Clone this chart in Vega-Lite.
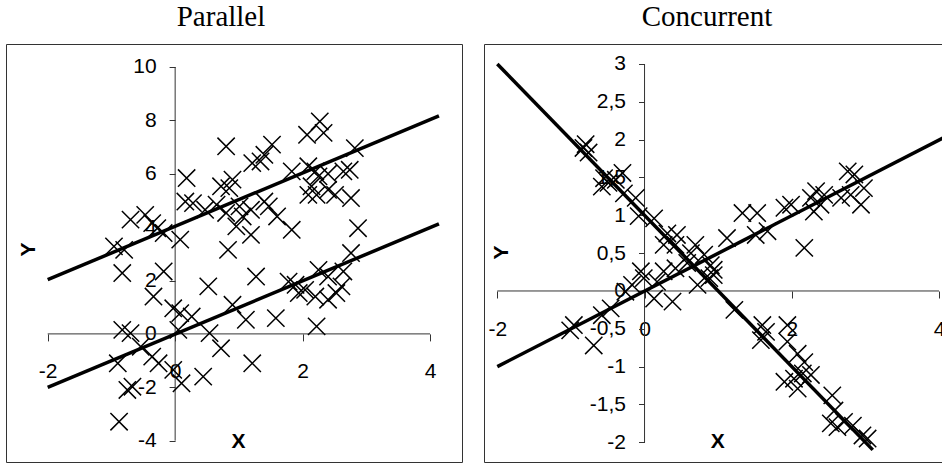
{
  "$schema": "https://vega.github.io/schema/vega-lite/v6.json",
  "padding": {"left": 5, "top": 2, "right": 0, "bottom": 0},
  "autosize": {"type": "pad"},
  "background": "white",
  "spacing": 20,
  "config": {
    "view": {"stroke": "#333333", "strokeWidth": 1},
    "axis": {
      "labelFont": "Liberation Sans", "labelFontSize": 21, "labelColor": "black",
      "tickColor": "#333333", "tickWidth": 1, "domain": false, "grid": false,
      "titleFont": "Liberation Sans", "titleFontSize": 21, "titleFontWeight": "bold", "titleColor": "black",
      "labelOverlap": false, "labelBound": false, "labelFlush": false
    },
    "title": {"font": "Liberation Serif", "fontSize": 29, "fontWeight": "normal", "color": "black", "offset": 12}
  },
  "datasets": {
    "par_axes": [{"x": -2, "x2": 4, "y": 0, "y2": 0}, {"x": 0, "x2": 0, "y": -4, "y2": 10}],
    "con_axes": [{"x": -2, "x2": 4, "y": 0, "y2": 0}, {"x": 0, "x2": 0, "y": -2, "y2": 3}],
    "par_lines": [
      {"line": "a", "x": -2, "y": 2.03}, {"line": "a", "x": 4.14, "y": 8.17},
      {"line": "b", "x": -2, "y": -2.0}, {"line": "b", "x": 4.14, "y": 4.12}
    ],
    "con_lines": [
      {"line": "a", "x": -2, "y": 3}, {"line": "a", "x": 3.1, "y": -2.1},
      {"line": "b", "x": -2, "y": -1}, {"line": "b", "x": 4.07, "y": 2.03}
    ],
    "par_pts": [
      {"x": 2.27, "y": 7.96}, {"x": 2.07, "y": 7.46}, {"x": 2.33, "y": 7.53}, {"x": 0.8, "y": 7.03},
      {"x": 1.52, "y": 7.09}, {"x": 1.4, "y": 6.71}, {"x": 2.82, "y": 6.96}, {"x": 1.21, "y": 6.4},
      {"x": 1.34, "y": 6.46}, {"x": 1.83, "y": 6.09}, {"x": 2.09, "y": 6.28}, {"x": 2.2, "y": 6.09},
      {"x": 2.25, "y": 5.9}, {"x": 2.4, "y": 6.0}, {"x": 2.64, "y": 6.09}, {"x": 2.74, "y": 6.15},
      {"x": 0.18, "y": 5.84}, {"x": 0.72, "y": 5.53}, {"x": 0.9, "y": 5.78}, {"x": 0.85, "y": 5.46},
      {"x": 2.14, "y": 5.53}, {"x": 2.22, "y": 5.21}, {"x": 2.4, "y": 5.4}, {"x": 2.51, "y": 5.21},
      {"x": 2.76, "y": 5.09}, {"x": 2.09, "y": 5.21}, {"x": 0.16, "y": 4.96}, {"x": 0.28, "y": 4.9},
      {"x": 0.47, "y": 4.65}, {"x": 0.65, "y": 4.84}, {"x": 0.8, "y": 4.53}, {"x": 1.01, "y": 4.78},
      {"x": 1.19, "y": 4.65}, {"x": 1.4, "y": 4.96}, {"x": 1.47, "y": 4.78}, {"x": 1.6, "y": 4.4},
      {"x": 1.83, "y": 3.9}, {"x": 0.96, "y": 4.03}, {"x": 1.19, "y": 3.71}, {"x": 0.83, "y": 3.15},
      {"x": 0.08, "y": 3.53}, {"x": -0.18, "y": 3.78}, {"x": -0.28, "y": 3.96}, {"x": -0.47, "y": 4.46},
      {"x": -0.7, "y": 4.28}, {"x": -0.36, "y": 4.15}, {"x": -0.96, "y": 3.28}, {"x": -0.8, "y": 3.15},
      {"x": -0.83, "y": 2.28}, {"x": -0.18, "y": 2.34}, {"x": 2.87, "y": 3.96}, {"x": 1.06, "y": 4.4},
      {"x": 2.76, "y": 3.03}, {"x": 2.64, "y": 2.34}, {"x": 2.25, "y": 2.4}, {"x": 2.4, "y": 2.15},
      {"x": 2.61, "y": 1.78}, {"x": 2.53, "y": 1.53}, {"x": 2.4, "y": 1.28}, {"x": 2.2, "y": 1.4},
      {"x": 2.04, "y": 1.65}, {"x": 1.89, "y": 1.84}, {"x": 1.78, "y": 1.96}, {"x": 1.94, "y": 1.53},
      {"x": 1.27, "y": 2.15}, {"x": 0.52, "y": 1.78}, {"x": -0.34, "y": 1.4}, {"x": 0.9, "y": 1.09},
      {"x": 1.11, "y": 0.53}, {"x": 1.58, "y": 0.59}, {"x": 2.22, "y": 0.28}, {"x": -0.03, "y": 0.96},
      {"x": 0.08, "y": 0.78}, {"x": 0.26, "y": 0.65}, {"x": 0.05, "y": 0.15}, {"x": 0.54, "y": 0.03},
      {"x": 0.72, "y": -0.54}, {"x": 1.21, "y": -1.1}, {"x": 0.44, "y": -1.6}, {"x": 0.1, "y": -1.85},
      {"x": -0.03, "y": -1.35}, {"x": -0.83, "y": 0.15}, {"x": -0.7, "y": 0.03}, {"x": -0.54, "y": -0.48},
      {"x": -0.36, "y": -0.85}, {"x": -0.26, "y": -1.1}, {"x": -0.9, "y": -1.1}, {"x": -0.75, "y": -2.1},
      {"x": -0.67, "y": -1.98}, {"x": -0.88, "y": -3.29}
    ],
    "con_pts": [
      {"x": -0.83, "y": 1.89}, {"x": -0.76, "y": 1.83}, {"x": -0.8, "y": 1.94}, {"x": -0.55, "y": 1.49},
      {"x": -0.39, "y": 1.47}, {"x": -0.49, "y": 1.43}, {"x": -0.3, "y": 1.56}, {"x": -0.58, "y": 1.38},
      {"x": -0.28, "y": 1.29}, {"x": -0.12, "y": 1.23}, {"x": -0.08, "y": 0.99}, {"x": 0.13, "y": 0.96},
      {"x": 0.31, "y": 0.76}, {"x": 0.44, "y": 0.74}, {"x": 0.26, "y": 0.61}, {"x": 0.42, "y": 0.61},
      {"x": 0.69, "y": 0.61}, {"x": 0.81, "y": 0.48}, {"x": 0.9, "y": 0.34}, {"x": 0.94, "y": 0.21},
      {"x": 1.22, "y": -0.25}, {"x": 1.6, "y": -0.45}, {"x": 1.65, "y": -0.54}, {"x": 1.58, "y": -0.65},
      {"x": 1.94, "y": -0.45}, {"x": 1.94, "y": -0.67}, {"x": 2.08, "y": -0.83}, {"x": 2.17, "y": -0.94},
      {"x": 2.26, "y": -1.11}, {"x": 1.9, "y": -1.2}, {"x": 2.03, "y": -1.16}, {"x": 2.15, "y": -1.09},
      {"x": 2.08, "y": -1.29}, {"x": 2.55, "y": -1.38}, {"x": 2.58, "y": -1.58}, {"x": 2.53, "y": -1.75},
      {"x": 2.62, "y": -1.8}, {"x": 2.71, "y": -1.73}, {"x": 2.83, "y": -1.78}, {"x": 2.96, "y": -1.91},
      {"x": 3.03, "y": -1.95},
      {"x": -1.01, "y": -0.52}, {"x": -0.96, "y": -0.45}, {"x": -0.69, "y": -0.72}, {"x": -0.58, "y": -0.32},
      {"x": -0.46, "y": -0.23}, {"x": -0.26, "y": -0.01}, {"x": -0.17, "y": 0.08}, {"x": -0.01, "y": 0.17},
      {"x": -0.05, "y": 0.26}, {"x": 0.13, "y": -0.1}, {"x": 0.38, "y": -0.14}, {"x": 0.17, "y": 0.12},
      {"x": 0.26, "y": 0.26}, {"x": 0.42, "y": 0.3}, {"x": 0.72, "y": 0.08}, {"x": 0.88, "y": 0.17},
      {"x": 0.94, "y": 0.28}, {"x": 1.12, "y": 0.7}, {"x": 1.33, "y": 1.03}, {"x": 1.53, "y": 1.03},
      {"x": 1.51, "y": 0.74}, {"x": 1.67, "y": 0.79}, {"x": 1.9, "y": 1.1}, {"x": 1.99, "y": 1.14},
      {"x": 2.17, "y": 0.57}, {"x": 2.26, "y": 1.23}, {"x": 2.33, "y": 1.32}, {"x": 2.39, "y": 1.14},
      {"x": 2.44, "y": 1.27}, {"x": 2.3, "y": 1.05}, {"x": 2.67, "y": 1.23}, {"x": 2.76, "y": 1.58},
      {"x": 2.85, "y": 1.54}, {"x": 2.94, "y": 1.14}, {"x": 2.98, "y": 1.36}, {"x": 2.8, "y": 1.27},
      {"x": 0.58, "y": 0.37}, {"x": 0.63, "y": 0.5}
    ]
  },
  "hconcat": [
    {
      "width": 456,
      "height": 418,
      "title": {"text": "Parallel", "dx": -13},
      "encoding": {
        "x": {
          "field": "x", "type": "quantitative",
          "scale": {"domain": [-2.6545, 4.5018], "nice": false, "zero": false},
          "axis": {
            "orient": "bottom", "offset": -128.1, "values": [-2, 0, 2, 4],
            "tickSize": 7, "labelPadding": 20, "labelExpr": "toString(datum.value)",
            "title": "X", "titleX": 232, "titleY": 113.4, "titleBaseline": "alphabetic", "titleAlign": "center"
          }
        },
        "y": {
          "field": "y", "type": "quantitative",
          "scale": {"domain": [-4.7996, 10.8617], "nice": false, "zero": false},
          "axis": {
            "orient": "left", "offset": -169.1, "values": [-4, -2, 0, 2, 4, 6, 8, 10],
            "tickSize": 6, "labelPadding": 13, "labelExpr": "toString(datum.value)",
            "title": "Y", "titleX": -140.6, "titleY": 205, "titleAngle": 270, "titleBaseline": "alphabetic", "titleAlign": "center"
          }
        }
      },
      "layer": [
        {
          "data": {"name": "par_axes"},
          "mark": {"type": "rule", "color": "#333333", "strokeWidth": 1},
          "encoding": {"x2": {"field": "x2"}, "y2": {"field": "y2"}}
        },
        {
          "data": {"name": "par_lines"},
          "mark": {"type": "line", "color": "black", "strokeWidth": 3.5},
          "encoding": {"detail": {"field": "line", "type": "nominal"}}
        },
        {
          "data": {"name": "par_pts"},
          "mark": {"type": "point", "shape": "M-1,-1L1,1M-1,1L1,-1", "size": 300, "filled": false, "color": "black", "strokeWidth": 1.5, "opacity": 1}
        }
      ]
    },
    {
      "width": 460,
      "height": 418,
      "title": {"text": "Concurrent", "dx": -7},
      "encoding": {
        "x": {
          "field": "x", "type": "quantitative",
          "scale": {"domain": [-2.1807, 4.0676], "nice": false, "zero": false},
          "axis": {
            "orient": "bottom", "offset": -171.0, "values": [-2, 0, 2, 4],
            "tickSize": 7, "labelPadding": 20, "labelExpr": "toString(datum.value)",
            "title": "X", "titleX": 233.3, "titleY": 156.3, "titleBaseline": "alphabetic", "titleAlign": "center"
          }
        },
        "y": {
          "field": "y", "type": "quantitative",
          "scale": {"domain": [-2.2604, 3.2643], "nice": false, "zero": false},
          "axis": {
            "orient": "left", "offset": -160.5, "values": [-2, -1.5, -1, -0.5, 0, 0.5, 1, 1.5, 2, 2.5, 3],
            "tickSize": 6, "labelPadding": 13, "labelExpr": "replace(toString(datum.value), '.', ',')",
            "title": "Y", "titleX": -136.7, "titleY": 208, "titleAngle": 270, "titleBaseline": "alphabetic", "titleAlign": "center"
          }
        }
      },
      "layer": [
        {
          "data": {"name": "con_axes"},
          "mark": {"type": "rule", "color": "#333333", "strokeWidth": 1},
          "encoding": {"x2": {"field": "x2"}, "y2": {"field": "y2"}}
        },
        {
          "data": {"name": "con_lines"},
          "mark": {"type": "line", "color": "black", "strokeWidth": 3.5},
          "encoding": {"detail": {"field": "line", "type": "nominal"}}
        },
        {
          "data": {"name": "con_pts"},
          "mark": {"type": "point", "shape": "M-1,-1L1,1M-1,1L1,-1", "size": 300, "filled": false, "color": "black", "strokeWidth": 1.5, "opacity": 1}
        }
      ]
    }
  ]
}
